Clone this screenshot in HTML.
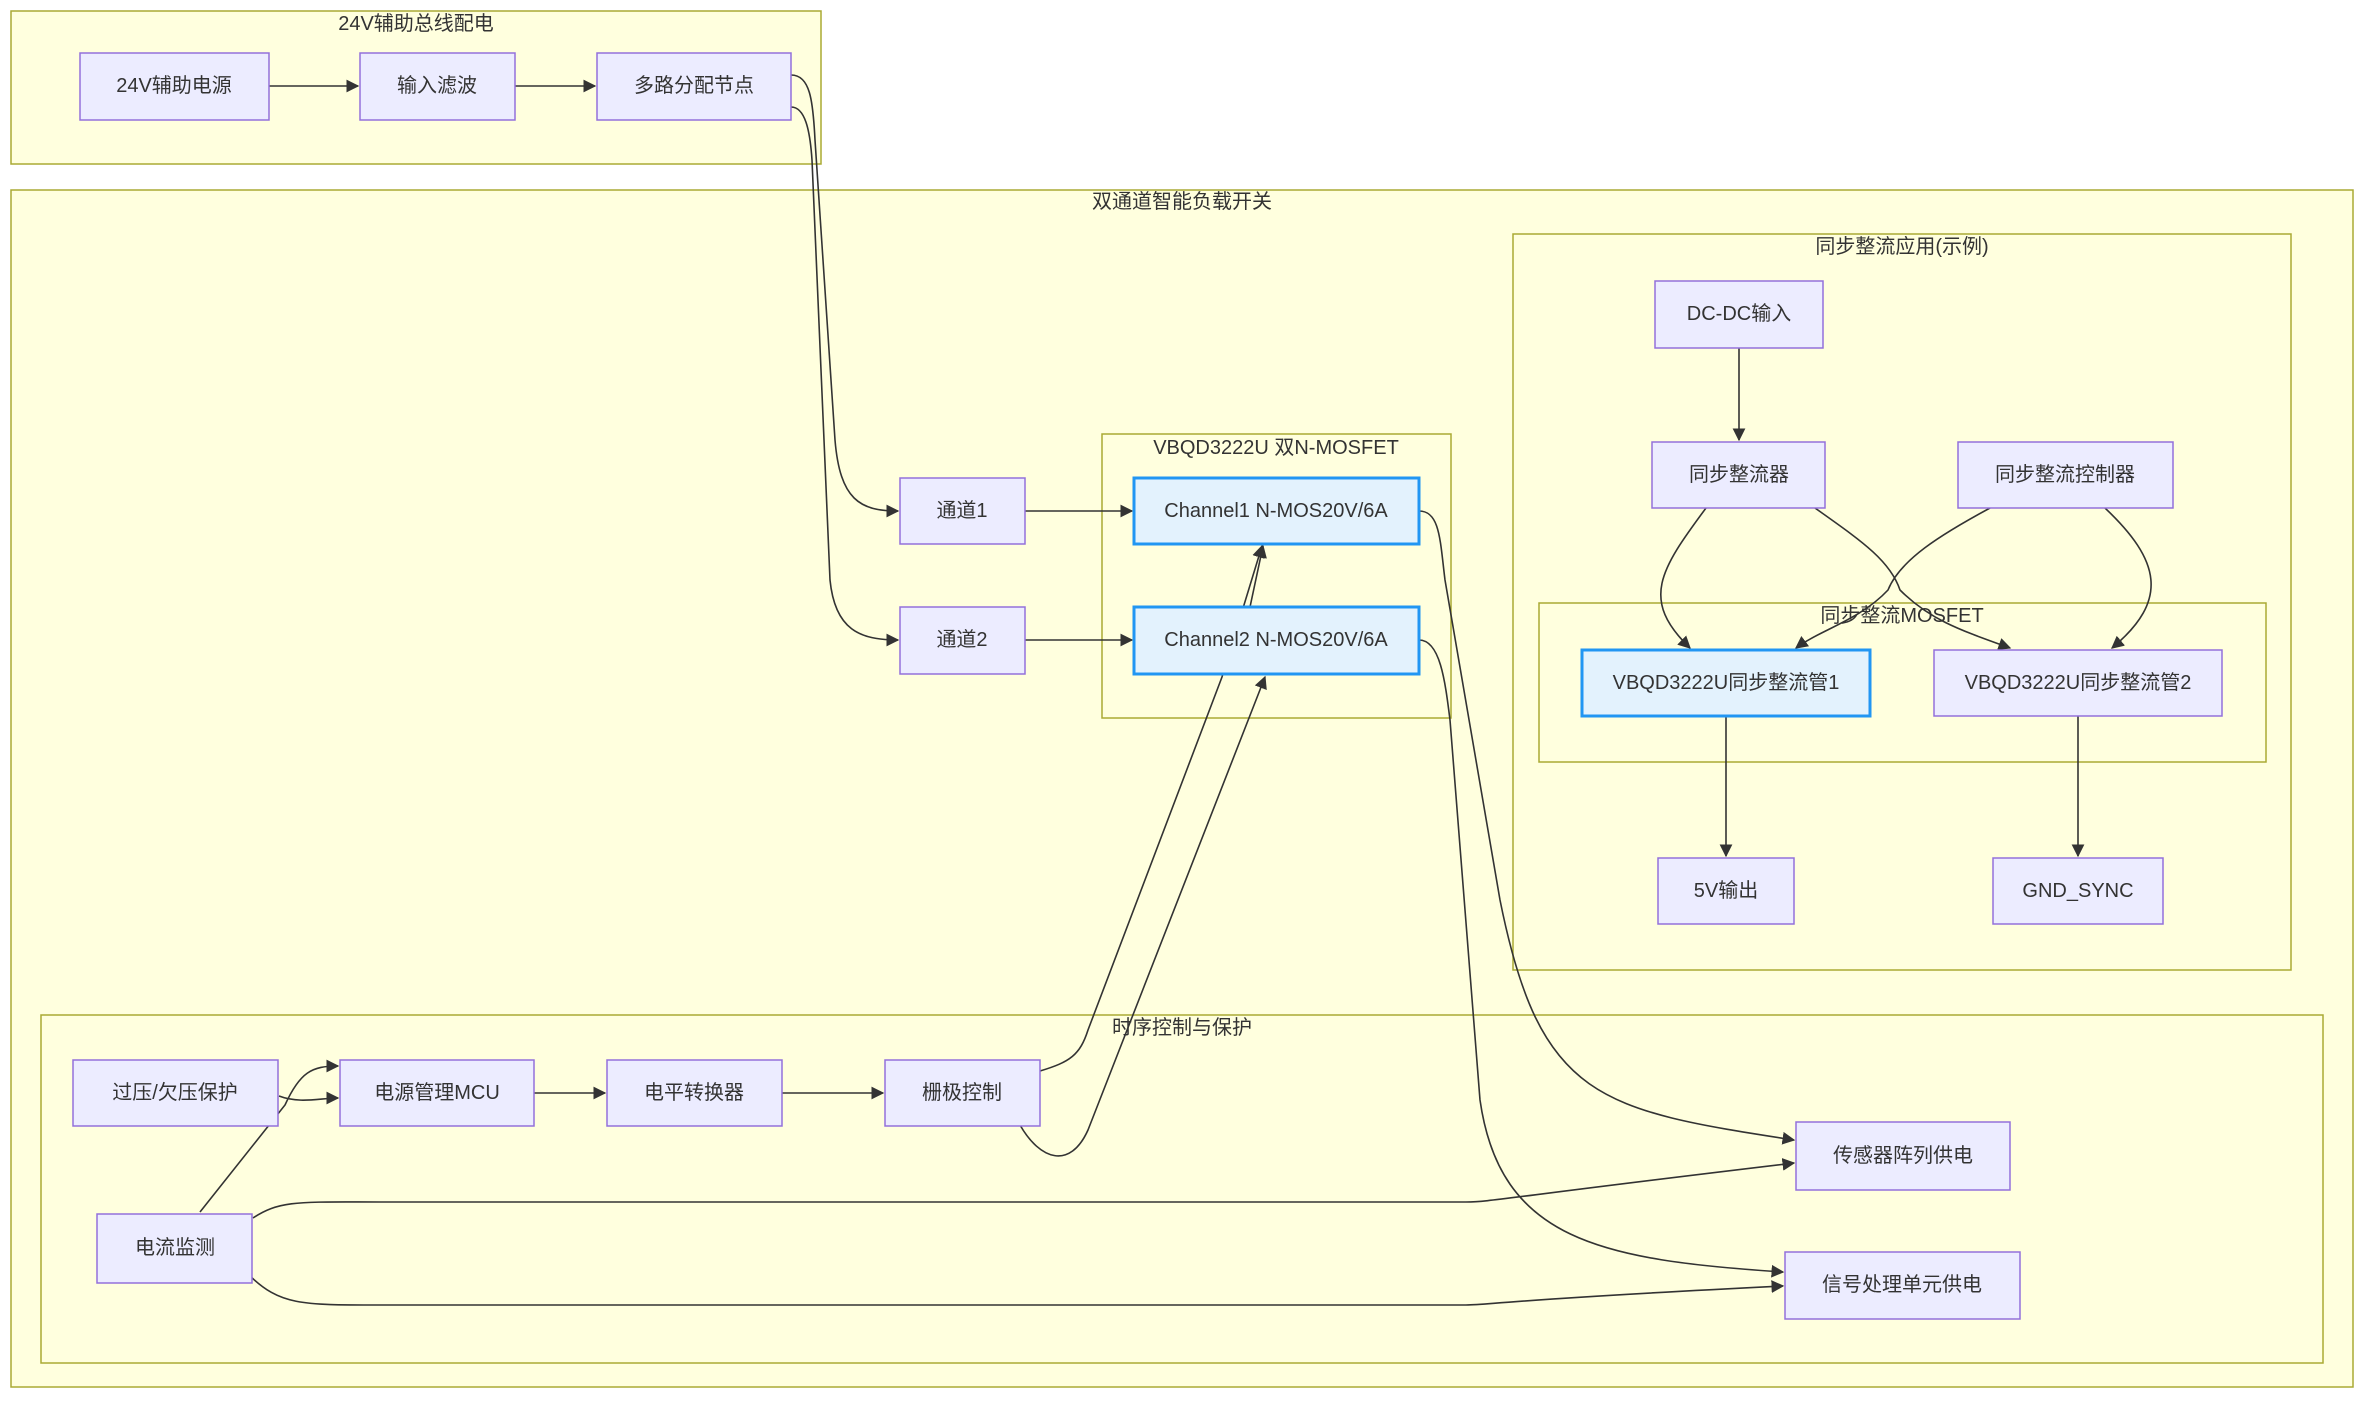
<!DOCTYPE html>
<html><head><meta charset="utf-8"><style>
html,body{margin:0;padding:0;background:#fff;}
svg{display:block;font-family:"Liberation Sans","Noto Sans CJK SC",sans-serif;}
.c{fill:#ffffde;stroke:#aaaa33;stroke-width:1.5}
.n{fill:#ececff;stroke:#9370db;stroke-width:1.5}
.b{fill:#e3f2fd;stroke:#2196f3;stroke-width:3}
.t{font-size:20px;fill:#333;text-anchor:middle;dominant-baseline:central}
.ct{font-size:20px;fill:#333;text-anchor:middle;dominant-baseline:central}
.e{fill:none;stroke:#333;stroke-width:1.6}
</style></head><body>
<svg width="2368" height="1402" viewBox="0 0 2368 1402">
<defs><marker id="a" viewBox="0 0 10 10" refX="9" refY="5" markerWidth="8" markerHeight="8" orient="auto"><path d="M0,0L10,5L0,10z" fill="#333"/></marker></defs>
<rect class="c" x="11" y="11" width="810" height="153"/>
<text class="ct" x="416" y="24">24V辅助总线配电</text>
<rect class="c" x="11" y="190" width="2342" height="1197"/>
<text class="ct" x="1182" y="202">双通道智能负载开关</text>
<rect class="c" x="1513" y="234" width="778" height="736"/>
<text class="ct" x="1902" y="247">同步整流应用(示例)</text>
<rect class="c" x="1102" y="434" width="349" height="284"/>
<text class="ct" x="1276" y="448">VBQD3222U 双N-MOSFET</text>
<rect class="c" x="1539" y="603" width="727" height="159"/>
<rect class="c" x="41" y="1015" width="2282" height="348"/>
<text class="ct" x="1182" y="1028">时序控制与保护</text>

<g marker-end="url(#a)">
<path class="e" d="M269,86L358,86"/>
<path class="e" d="M515,86L595,86"/>
<path class="e" d="M791,75C810,75 813,100 815,140L835,440C840,500 860,511 898,511"/>
<path class="e" d="M791,107C805,107 810,130 812,160L830,580C835,630 860,640 898,640"/>
<path class="e" d="M1025,511L1132,511"/>
<path class="e" d="M1025,640L1132,640"/>
<path class="e" d="M1250,607L1263,546"/>
<path class="e" d="M1040,1071C1070,1062 1080,1055 1088,1030L1222,677L1262,546"/>
<path class="e" d="M1020,1125C1040,1160 1070,1170 1088,1130L1265,677"/>
<path class="e" d="M1419,511C1440,511 1440,540 1445,580L1500,900C1540,1100 1600,1110 1794,1140"/>
<path class="e" d="M1419,640C1440,640 1445,680 1450,720L1480,1100C1500,1240 1600,1260 1783,1272"/>
<path class="e" d="M279,1096C300,1104 320,1098 338,1098"/>
<path class="e" d="M200,1212L285,1105C300,1072 312,1066 338,1066"/>
<path class="e" d="M534,1093L605,1093"/>
<path class="e" d="M782,1093L883,1093"/>
<path class="e" d="M253,1218C280,1200 300,1202 380,1202L1466,1202C1490,1202 1500,1198 1794,1163"/>
<path class="e" d="M249,1275C280,1305 300,1305 380,1305L1466,1305C1490,1305 1500,1300 1783,1286"/>
<path class="e" d="M1739,348L1739,440"/>
<path class="e" d="M1706,508C1660,570 1640,600 1690,648"/>
<path class="e" d="M1815,508C1860,540 1890,560 1900,590C1930,620 1960,630 2010,648"/>
<path class="e" d="M1990,508C1940,535 1900,560 1888,590C1860,620 1820,630 1796,648"/>
<path class="e" d="M2105,508C2160,560 2170,600 2112,648"/>
<path class="e" d="M1726,716L1726,856"/>
<path class="e" d="M2078,716L2078,856"/>
</g>
<text class="ct" x="1902" y="616">同步整流MOSFET</text>

<rect class="n" x="80" y="53" width="189" height="67"/><text class="t" x="174" y="86">24V辅助电源</text>
<rect class="n" x="360" y="53" width="155" height="67"/><text class="t" x="437" y="86">输入滤波</text>
<rect class="n" x="597" y="53" width="194" height="67"/><text class="t" x="694" y="86">多路分配节点</text>
<rect class="n" x="900" y="478" width="125" height="66"/><text class="t" x="962" y="511">通道1</text>
<rect class="n" x="900" y="607" width="125" height="67"/><text class="t" x="962" y="640">通道2</text>
<rect class="b" x="1134" y="478" width="285" height="66"/><text class="t" x="1276" y="511">Channel1 N-MOS20V/6A</text>
<rect class="b" x="1134" y="607" width="285" height="67"/><text class="t" x="1276" y="640">Channel2 N-MOS20V/6A</text>
<rect class="n" x="1655" y="281" width="168" height="67"/><text class="t" x="1739" y="314">DC-DC输入</text>
<rect class="n" x="1652" y="442" width="173" height="66"/><text class="t" x="1739" y="475">同步整流器</text>
<rect class="n" x="1958" y="442" width="215" height="66"/><text class="t" x="2065" y="475">同步整流控制器</text>
<rect class="b" x="1582" y="650" width="288" height="66"/><text class="t" x="1726" y="683">VBQD3222U同步整流管1</text>
<rect class="n" x="1934" y="650" width="288" height="66"/><text class="t" x="2078" y="683">VBQD3222U同步整流管2</text>
<rect class="n" x="1658" y="858" width="136" height="66"/><text class="t" x="1726" y="891">5V输出</text>
<rect class="n" x="1993" y="858" width="170" height="66"/><text class="t" x="2078" y="891">GND_SYNC</text>
<rect class="n" x="73" y="1060" width="205" height="66"/><text class="t" x="175" y="1093">过压/欠压保护</text>
<rect class="n" x="340" y="1060" width="194" height="66"/><text class="t" x="437" y="1093">电源管理MCU</text>
<rect class="n" x="607" y="1060" width="175" height="66"/><text class="t" x="694" y="1093">电平转换器</text>
<rect class="n" x="885" y="1060" width="155" height="66"/><text class="t" x="962" y="1093">栅极控制</text>
<rect class="n" x="97" y="1214" width="155" height="69"/><text class="t" x="175" y="1248">电流监测</text>
<rect class="n" x="1796" y="1122" width="214" height="68"/><text class="t" x="1903" y="1156">传感器阵列供电</text>
<rect class="n" x="1785" y="1252" width="235" height="67"/><text class="t" x="1902" y="1285">信号处理单元供电</text>
</svg>
</body></html>
